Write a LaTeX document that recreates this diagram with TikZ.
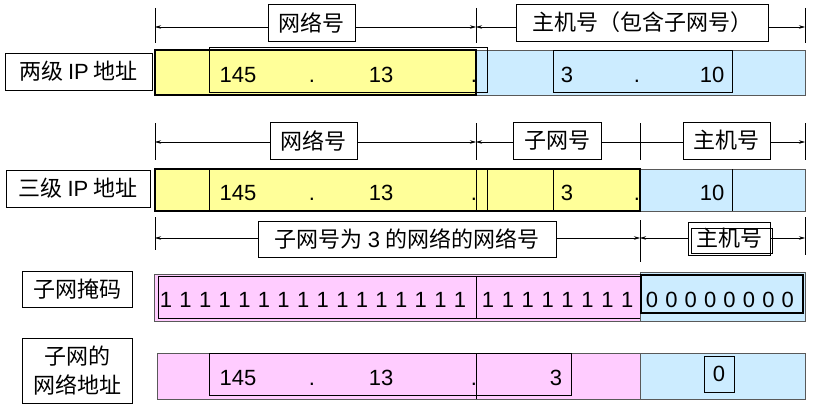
\documentclass[tikz,border=0pt]{standalone}
\usepackage{fontspec}
\setmainfont{Liberation Sans}
\newfontfamily\cjk{Noto Sans CJK SC}
\usetikzlibrary{arrows.meta}
\definecolor{ylw}{HTML}{FFFF99}
\definecolor{blu}{HTML}{CCECFF}
\definecolor{pnk}{HTML}{FFCCFF}
\begin{document}
\begin{tikzpicture}[x=1pt,y=-1pt,
  lbl/.style={draw, fill=white, line width=0.8pt, inner sep=0pt, font=\cjk\fontsize{22}{29}\selectfont},
  num/.style={font=\fontsize{22}{26}\selectfont, inner sep=0pt, anchor=base},
  tickline/.style={line width=0.8pt},
  dim/.style={line width=0.6pt, -{Stealth[length=6pt,width=3.5pt]}},
  plainline/.style={line width=0.6pt},
  box/.style={draw, line width=0.8pt},
  yelbar/.style={fill=ylw, draw=black, line width=1.6pt},
  blubar/.style={fill=blu, draw=black!65, line width=0.8pt},
  pnkbar/.style={fill=pnk, draw=black!65, line width=0.8pt},
]
\useasboundingbox (0,0) rectangle (813,412);

% ---------------- Row 1: two-level address ----------------
\coordinate (a1) at (155,27);
\coordinate (b1) at (476,27);
\coordinate (c1) at (805,27);
\draw[tickline] (155,8) -- (155,43);
\draw[tickline] (476,8) -- (476,43);
\draw[tickline] (805,8) -- (805,43);
\node[lbl, minimum width=87pt, minimum height=37pt] (N1) at (311.5,22.5) {网络号};
\node[lbl, minimum width=252pt, minimum height=37pt] (H1) at (642,22.5) {主机号（包含子网号）};
\draw[dim] (N1.west |- a1) -- (a1);
\draw[dim] (N1.east |- b1) -- (b1);
\draw[dim] (H1.west |- b1) -- (b1);
\draw[dim] (H1.east |- c1) -- (c1);

\node[lbl, minimum width=147pt, minimum height=37pt] (L1) at (78.5,71.5) {两级 {\normalfont IP} 地址};
\draw[blubar] (476,50) rectangle (805,95);
\draw[yelbar] (155,50) rectangle (476,95);
\draw[box] (209,47) rectangle (487,92);
\draw[box] (553,50) rectangle (732,92);
\node[num] (r1a) at (238,82) {145};
\node[num] (r1b) at (312,82) {.};
\node[num] (r1c) at (381,82) {13};
\node[num] (r1d) at (474,82) {.};
\node[num] (r1e) at (567,82) {3};
\node[num] (r1f) at (637,82) {.};
\node[num] (r1g) at (712,82) {10};

% ---------------- Row 2: three-level address ----------------
\coordinate (a2) at (155,142);
\coordinate (b2) at (476,142);
\coordinate (c2) at (640,142);
\coordinate (d2) at (805,142);
\draw[tickline] (155,123) -- (155,160);
\draw[tickline] (476,123) -- (476,160);
\draw[tickline] (640,123) -- (640,160);
\draw[tickline] (805,123) -- (805,160);
\node[lbl, minimum width=87pt, minimum height=37pt] (N2) at (313.5,140.5) {网络号};
\node[lbl, minimum width=88pt, minimum height=37pt] (S2) at (557,140.5) {子网号};
\node[lbl, minimum width=87pt, minimum height=37pt] (H2) at (726.5,140.5) {主机号};
\draw[dim] (N2.west |- a2) -- (a2);
\draw[dim] (N2.east |- b2) -- (b2);
\draw[dim] (S2.west |- b2) -- (b2);
\draw[plainline] (S2.east |- c2) -- (H2.west |- c2);
\draw[dim] (H2.east |- d2) -- (d2);

\node[lbl, minimum width=144pt, minimum height=37pt] (L2) at (78,188.5) {三级 {\normalfont IP} 地址};
\draw[blubar] (640,169) rectangle (805,211);
\draw[yelbar] (155,169) rectangle (640,211);
\draw[box] (209,169) rectangle (487,211);
\draw[box] (476,169) -- (476,211);
\draw[box] (553,169) -- (553,211);
\draw[box] (732,169) -- (732,211);
\node[num] (r2a) at (238,200) {145};
\node[num] (r2b) at (312,200) {.};
\node[num] (r2c) at (381,200) {13};
\node[num] (r2d) at (474,200) {.};
\node[num] (r2e) at (567,200) {3};
\node[num] (r2f) at (637,200) {.};
\node[num] (r2g) at (712,200) {10};

% ---------------- Row 3: subnet mask ----------------
\coordinate (a3) at (155,238);
\coordinate (b3) at (640,238);
\coordinate (c3) at (805,238);
\draw[tickline] (155,217) -- (155,250);
\draw[tickline] (640,220) -- (640,262);
\draw[tickline] (805,217) -- (805,255);
\node[lbl, minimum width=298pt, minimum height=36pt] (N3) at (407,239) {子网号为 {\normalfont 3} 的网络的网络号};
\node[lbl, minimum width=82pt, minimum height=33pt] (H3) at (729,238.5) {主机号};
\draw[box] (691,228) rectangle (772,253);
\draw[dim] (N3.west |- a3) -- (a3);
\draw[dim] (N3.east |- b3) -- (b3);
\draw[dim] (H3.west |- b3) -- (b3);
\draw[dim] (H3.east |- c3) -- (c3);

\node[lbl, minimum width=110pt, minimum height=36pt] (M) at (77,289) {子网掩码};
\draw[pnkbar] (154,274) rectangle (640,321);
\draw[box] (158,276) rectangle (476,318);
\draw[box] (476,276) rectangle (640,318);
\draw[blubar] (640,272) rectangle (805,321);
\draw[box, line width=1.1pt] (641,275) rectangle (803,313);
\foreach \i in {0,...,15} \node[num] (o\i) at (166+19.6*\i,307) {1};
\foreach \i in {0,...,7} \node[num] (p\i) at (488+19.9*\i,307) {1};
\foreach \i in {0,...,7} \node[num] (z\i) at (652+19.4*\i,307) {0};

% ---------------- Row 4: subnet network address ----------------
\node[lbl, minimum width=110pt, minimum height=65pt, align=center] (W) at (77,370.5) {子网的\\网络地址};
\draw[pnkbar] (157,353) rectangle (640,399);
\draw[blubar] (640,353) rectangle (805,399);
\draw[box] (209,353) rectangle (476,395);
\draw[box] (476,353) rectangle (571,395);
\draw[box] (476,395) -- (476,399);
\node[num] (r4a) at (238,385) {145};
\node[num] (r4b) at (312,385) {.};
\node[num] (r4c) at (381,385) {13};
\node[num] (r4d) at (474,385) {.};
\node[num] (r4e) at (556,385) {3};
\node[draw, fill=blu, line width=0.8pt, minimum width=30pt, minimum height=36pt, inner sep=0pt, font=\fontsize{22}{26}\selectfont] (zb) at (719,374) {0};
\end{tikzpicture}
\end{document}
